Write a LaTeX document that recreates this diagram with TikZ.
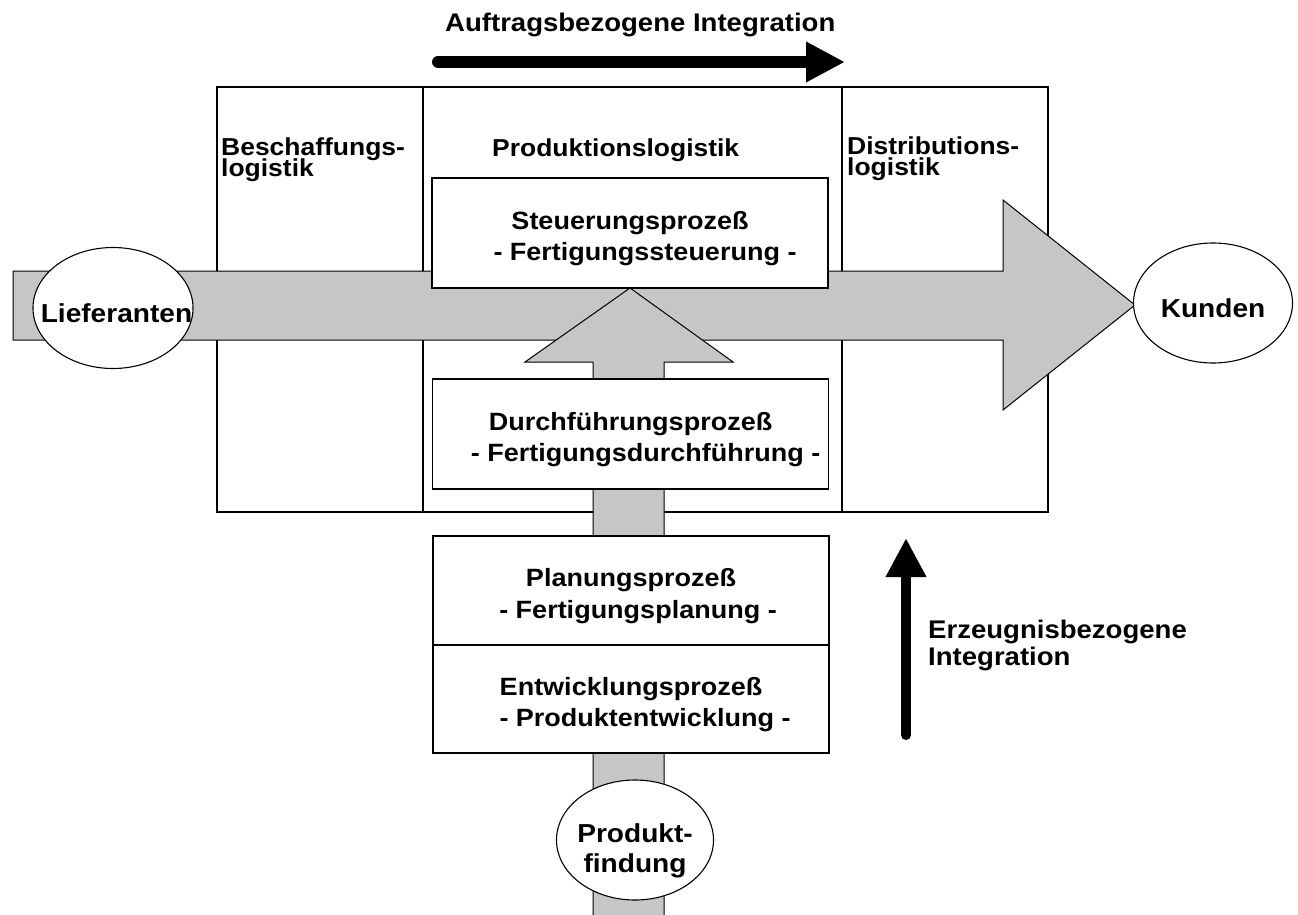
\documentclass[tikz,border=0pt]{standalone}
\usepackage{fontspec}
\setmainfont{Liberation Sans}[FakeStretch=1.08]
\usetikzlibrary{shapes.geometric,arrows.meta}
\definecolor{flow}{RGB}{198,198,198}
\newcommand{\firstline}{\rule{0pt}{29pt}}
\newcommand{\tightlines}{\setlength{\lineskiplimit}{-100pt}}
\begin{document}
\begin{tikzpicture}[x=1pt,y=-1pt,
  column/.style={draw, line width=1.2pt, inner sep=0pt, minimum height=425pt},
  flowarrow/.style={fill=flow, draw, line width=1pt, line join=miter},
  procbox/.style={draw, fill=white, line width=1.2pt, inner sep=0pt,
    minimum width=396pt, minimum height=109pt, align=center,
    font=\bfseries\fontsize{25}{31.5}\selectfont},
  partner/.style={ellipse, draw, fill=white, line width=1.1pt, inner sep=0pt,
    font=\bfseries\fontsize{26}{30}\selectfont},
  heading/.style={inner sep=0pt, align=left,
    font=\bfseries\fontsize{24.5}{21}\selectfont\tightlines},
  caption/.style={inner sep=0pt, align=left,
    font=\bfseries\fontsize{25.5}{27}\selectfont\tightlines},
  integration/.style={line width=12pt, line cap=round,
    -{Triangle[length=39pt,width=38pt]}}
]
\useasboundingbox (0,0) rectangle (1298,915);

% the three logistics columns
\node[column, minimum width=206pt] (beschaffung) at (320,299.5) {};
\node[column, minimum width=419pt] (produktion) at (632.5,299.5) {};
\node[column, minimum width=206pt] (distribution) at (945,299.5) {};

% material flow from suppliers to customers
\draw[flowarrow] (13,271) -- (1003,271) -- (1003,200) -- (1135,305)
  -- (1003,410) -- (1003,340) -- (13,340) -- cycle;

% product flow from product finding upwards
\draw[flowarrow] (593,925) -- (593,362) -- (525,362) -- (630,288)
  -- (733,362) -- (664,362) -- (664,925) -- cycle;

% process boxes
\node[procbox, minimum height=110pt] (steuerung) at (630,233)
  {\firstline Steuerungsprozeß\\\hspace*{30pt}- Fertigungssteuerung -};
\node[procbox, minimum height=110pt] (durchfuehrung) at (630.5,434)
  {\firstline Durchführungsprozeß\\\hspace*{30pt}- Fertigungsdurchführung -};
\node[procbox] (planung) at (631,590.5)
  {\firstline Planungsprozeß\\\hspace*{14pt}- Fertigungsplanung -};
\node[procbox, minimum height=108pt] (entwicklung) at (631,699)
  {\firstline Entwicklungsprozeß\\\hspace*{28pt}- Produktentwicklung -};

% partners
\node[partner, minimum width=160pt, minimum height=121pt,
      text height=28pt, text depth=0pt] (lieferanten) at (113,308)
  {\makebox[0pt]{\hspace*{7pt}Lieferanten}};
\node[partner, minimum width=159pt, minimum height=120pt,
      text height=28pt, text depth=0pt] (kunden) at (1213,303)
  {\makebox[0pt]{Kunden}};
\node[partner, minimum width=157pt, minimum height=120pt, align=center,
      text height=64pt, text depth=0pt] (produktfindung) at (635,840)
  {\makebox[0pt]{Produkt-}\\\makebox[0pt]{findung}};

% column headings
\node[heading, anchor=north west] (beschaffungTitel) at (221,138) {Beschaffungs-\\logistik};
\node[heading, anchor=base west] (produktionTitel) at (492,157) {Produktionslogistik};
\node[heading, anchor=north west] (distributionTitel) at (847,137) {Distributions-\\logistik};

% order-related integration
\coordinate (auftragStart) at (438,62);
\coordinate (auftragEnde) at (845,62);
\draw[integration] (auftragStart) -- (auftragEnde);
\node[caption, anchor=base west] (auftragText) at (445,32) {Auftragsbezogene Integration};

% product-related integration
\coordinate (erzeugStart) at (906,735);
\coordinate (erzeugEnde) at (906,538);
\draw[integration, line width=10pt] (erzeugStart) -- (erzeugEnde);
\node[caption, anchor=north west] (erzeugText) at (928,620) {Erzeugnisbezogene\\Integration};
\end{tikzpicture}
\end{document}
